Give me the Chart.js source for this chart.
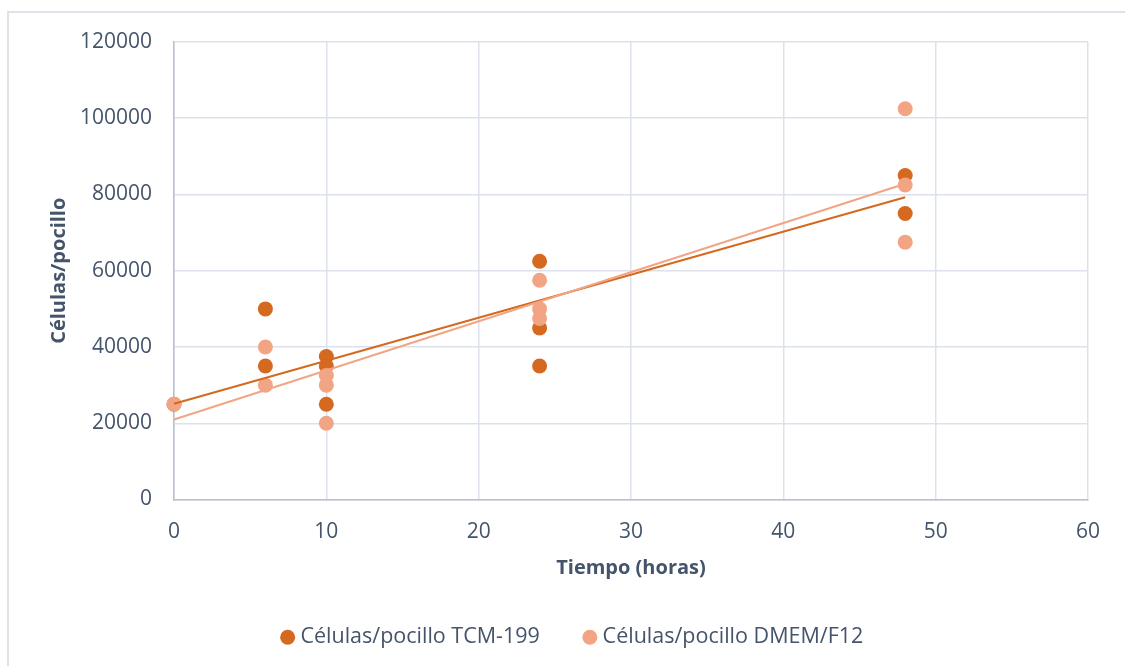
<!DOCTYPE html>
<html>
<head>
<meta charset="utf-8">
<script src="https://cdn.jsdelivr.net/npm/chart.js@4/dist/chart.umd.min.js"></script>
<style>
  html, body { margin: 0; padding: 0; background: #ffffff; }
  #wrap { position: relative; width: 1125px; height: 666px; overflow: hidden; }
  #frame { position: absolute; left: 7px; top: 11px; width: 1200px; height: 700px;
           border-left: 2px solid #DEE2E9; border-top: 2px solid #DEE2E9; }
  canvas { position: absolute; left: 0; top: 0; }
</style>
</head>
<body>
<div id="wrap">
  <div id="frame"></div>
  <canvas id="c" width="1125" height="666"></canvas>
</div>
<script>
// Cell counts per well over time, two culture media
const tcmHours  = [0, 6, 6, 10, 10, 10, 24, 24, 24, 48, 48];
const tcmCells  = [25000, 50000, 35000, 37500, 35000, 25000, 62500, 45000, 35000, 85000, 75000];
const dmemHours = [0, 6, 6, 10, 10, 10, 24, 24, 24, 48, 48, 48];
const dmemCells = [25000, 40000, 30000, 32500, 30000, 20000, 57500, 50000, 47500, 102500, 82500, 67500];

// Linear trend lines (end points)
const trendHours = [0, 48];
const tcmTrend   = [25100, 79300];
const dmemTrend  = [21000, 82800];

const xTicks = [0, 10, 20, 30, 40, 50, 60];
const yTicks = [0, 20000, 40000, 60000, 80000, 100000, 120000];

const tcmColor  = '#D4691F';
const dmemColor = '#F2A585';
const textColor = '#44546A';
const gridColor = '#DCE1EA';
const axisColor = '#B8C0CE';
const FONT = '"Open Sans", "DejaVu Sans", sans-serif';

const pts = (xs, ys) => xs.map((x, i) => ({ x: x, y: ys[i] }));

new Chart(document.getElementById('c'), {
  type: 'scatter',
  data: {
    datasets: [
      {
        label: 'Células/pocillo TCM-199',
        data: pts(tcmHours, tcmCells),
        backgroundColor: tcmColor,
        borderColor: tcmColor,
        borderWidth: 0,
        pointRadius: 7.5,
        pointHoverRadius: 7.5,
        clip: false,
        order: 3
      },
      {
        label: 'Células/pocillo DMEM/F12',
        data: pts(dmemHours, dmemCells),
        backgroundColor: dmemColor,
        borderColor: dmemColor,
        borderWidth: 0,
        pointRadius: 7.5,
        pointHoverRadius: 7.5,
        clip: false,
        order: 2
      },
      {
        label: 'trendTCM',
        data: pts(trendHours, tcmTrend),
        showLine: true,
        borderColor: tcmColor,
        borderWidth: 2,
        pointRadius: 0,
        clip: false,
        order: 1
      },
      {
        label: 'trendDMEM',
        data: pts(trendHours, dmemTrend),
        showLine: true,
        borderColor: dmemColor,
        borderWidth: 2,
        pointRadius: 0,
        clip: false,
        order: 0
      }
    ]
  },
  options: {
    responsive: false,
    animation: false,
    events: [],
    layout: { padding: { top: 42, right: 0, left: 24, bottom: 8 } },
    scales: {
      x: {
        type: 'linear',
        min: 0, max: 60,
        afterBuildTicks: (s) => { s.ticks = xTicks.map(v => ({ value: v })); },
        afterFit: (s) => { s.height = 79; },
        grid: { color: gridColor, lineWidth: 1.5, drawTicks: false },
        border: { color: axisColor, width: 1.5 },
        ticks: { color: textColor, font: { family: FONT, size: 21 }, padding: 20 },
        title: {
          display: true, text: 'Tiempo (horas)', color: textColor,
          font: { family: FONT, size: 20, weight: 'bold' },
          padding: { top: 0, bottom: -2 }
        }
      },
      y: {
        type: 'linear',
        min: 0, max: 120000,
        afterBuildTicks: (s) => { s.ticks = yTicks.map(v => ({ value: v })); },
        afterFit: (s) => { s.width = 150; },
        grid: { color: gridColor, lineWidth: 1.5, drawTicks: false },
        border: { color: axisColor, width: 1.5 },
        ticks: { color: textColor, font: { family: FONT, size: 21 }, padding: 22,
                 callback: (v) => String(v) },
        title: {
          display: true, text: 'Células/pocillo', color: textColor,
          font: { family: FONT, size: 20, weight: 'bold' },
          padding: { top: 23, bottom: 0 }
        }
      },
      // empty right-hand margin so the legend centres under the whole frame
      yRight: {
        type: 'linear',
        position: 'right',
        display: true,
        afterFit: (s) => { s.width = 37; },
        grid: { display: false, drawTicks: false },
        border: { display: false },
        ticks: { display: false }
      }
    },
    plugins: {
      tooltip: { enabled: false },
      legend: {
        position: 'bottom',
        labels: {
          usePointStyle: true,
          pointStyle: 'circle',
          boxWidth: 4,
          boxHeight: 10.6,
          padding: 48,
          color: textColor,
          font: { family: FONT, size: 21.5 },
          filter: (item) => item.datasetIndex < 2,
          sort: (a, b) => a.datasetIndex - b.datasetIndex
        }
      }
    }
  }
});
</script>
</body>
</html>
